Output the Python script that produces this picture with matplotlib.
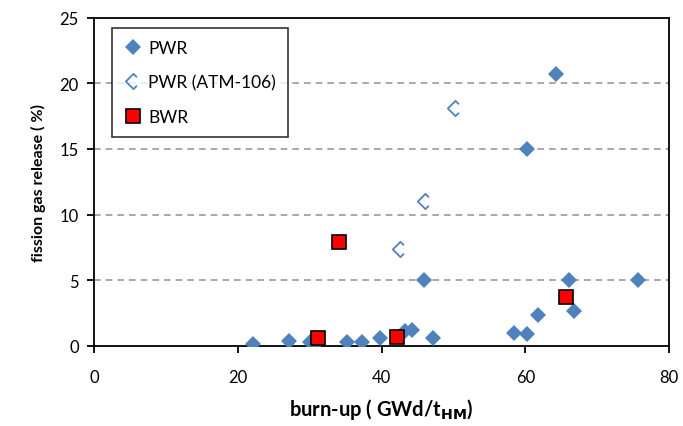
import matplotlib
matplotlib.use("Agg")
import matplotlib.pyplot as plt
from matplotlib.path import Path

plt.rcParams['font.family'] = ['Lato', 'DejaVu Sans']

# ---------- Data ----------
pwr_burnup = [22.1, 27.1, 30.0, 31.0, 35.2, 37.3, 39.8, 43.3, 44.2, 47.1,
              45.9, 58.4, 60.3, 61.7, 60.3, 64.3, 66.1, 66.8, 75.7]
pwr_fgr = [0.13, 0.38, 0.26, 0.26, 0.3, 0.3, 0.56, 1.15, 1.2, 0.56,
           5.0, 1.0, 0.9, 2.35, 15.0, 20.7, 5.0, 2.65, 5.0]

atm_burnup = [42.6, 46.1, 50.2]
atm_fgr = [7.4, 11.0, 18.1]

bwr_burnup = [31.1, 34.1, 42.2, 65.6]
bwr_fgr = [0.6, 7.9, 0.7, 3.7]

blue = "#4F81BD"

# open diamond with the right corner missing
half_diamond = Path([(0.45, 0.55), (0, 1), (-1, 0), (0, -1), (0.45, -0.55)],
                    [Path.MOVETO, Path.LINETO, Path.LINETO, Path.LINETO, Path.LINETO])

# ---------- Plot ----------
fig = plt.figure(figsize=(6.83, 4.27), dpi=100)
ax = fig.add_axes([0.1376, 0.188, 0.842, 0.768])

ax.plot(pwr_burnup, pwr_fgr, linestyle="none", marker="D", markersize=8,
        color=blue, markeredgewidth=0, label="PWR", zorder=3)
ax.plot(atm_burnup, atm_fgr, linestyle="none", marker=half_diamond, markersize=11,
        markerfacecolor="none", markeredgecolor=blue, markeredgewidth=1.3,
        label="PWR (ATM-106)", zorder=3)
ax.plot(bwr_burnup, bwr_fgr, linestyle="none", marker="s", markersize=9.5,
        markerfacecolor="#FF0000", markeredgecolor="black", markeredgewidth=1.2,
        label="BWR", zorder=4)

ax.set_xlim(0, 80)
ax.set_ylim(0, 25)
ax.set_xticks([0, 20, 40, 60, 80])
ax.set_yticks([0, 5, 10, 15, 20, 25])

for y in [5, 10, 15, 20]:
    ax.axhline(y, color="#999999", linestyle=(0, (4, 3)), linewidth=1.2, zorder=1)

for s in ax.spines.values():
    s.set_linewidth(1.3)
    s.set_color("black")
ax.tick_params(direction="out", length=5, width=1.3, labelsize=12, pad=6)
ax.tick_params(axis="x", pad=12)

ax.set_xlabel(r"burn-up ( GWd/t$_{\mathbf{HM}}$)", fontsize=14.5, fontweight="bold", labelpad=8)
ax.set_ylabel("fission gas release ( %)", fontsize=11.5, fontweight="bold", labelpad=10)

leg = ax.legend(loc="upper left", bbox_to_anchor=(0.031, 0.969), fontsize=12.5,
                frameon=True, fancybox=False, labelspacing=1.05, handlelength=1.0,
                handletextpad=0.4, borderpad=0.7, borderaxespad=0)
leg.get_frame().set_edgecolor("black")
leg.get_frame().set_linewidth(1.2)

fig.savefig("out.png", dpi=100)
